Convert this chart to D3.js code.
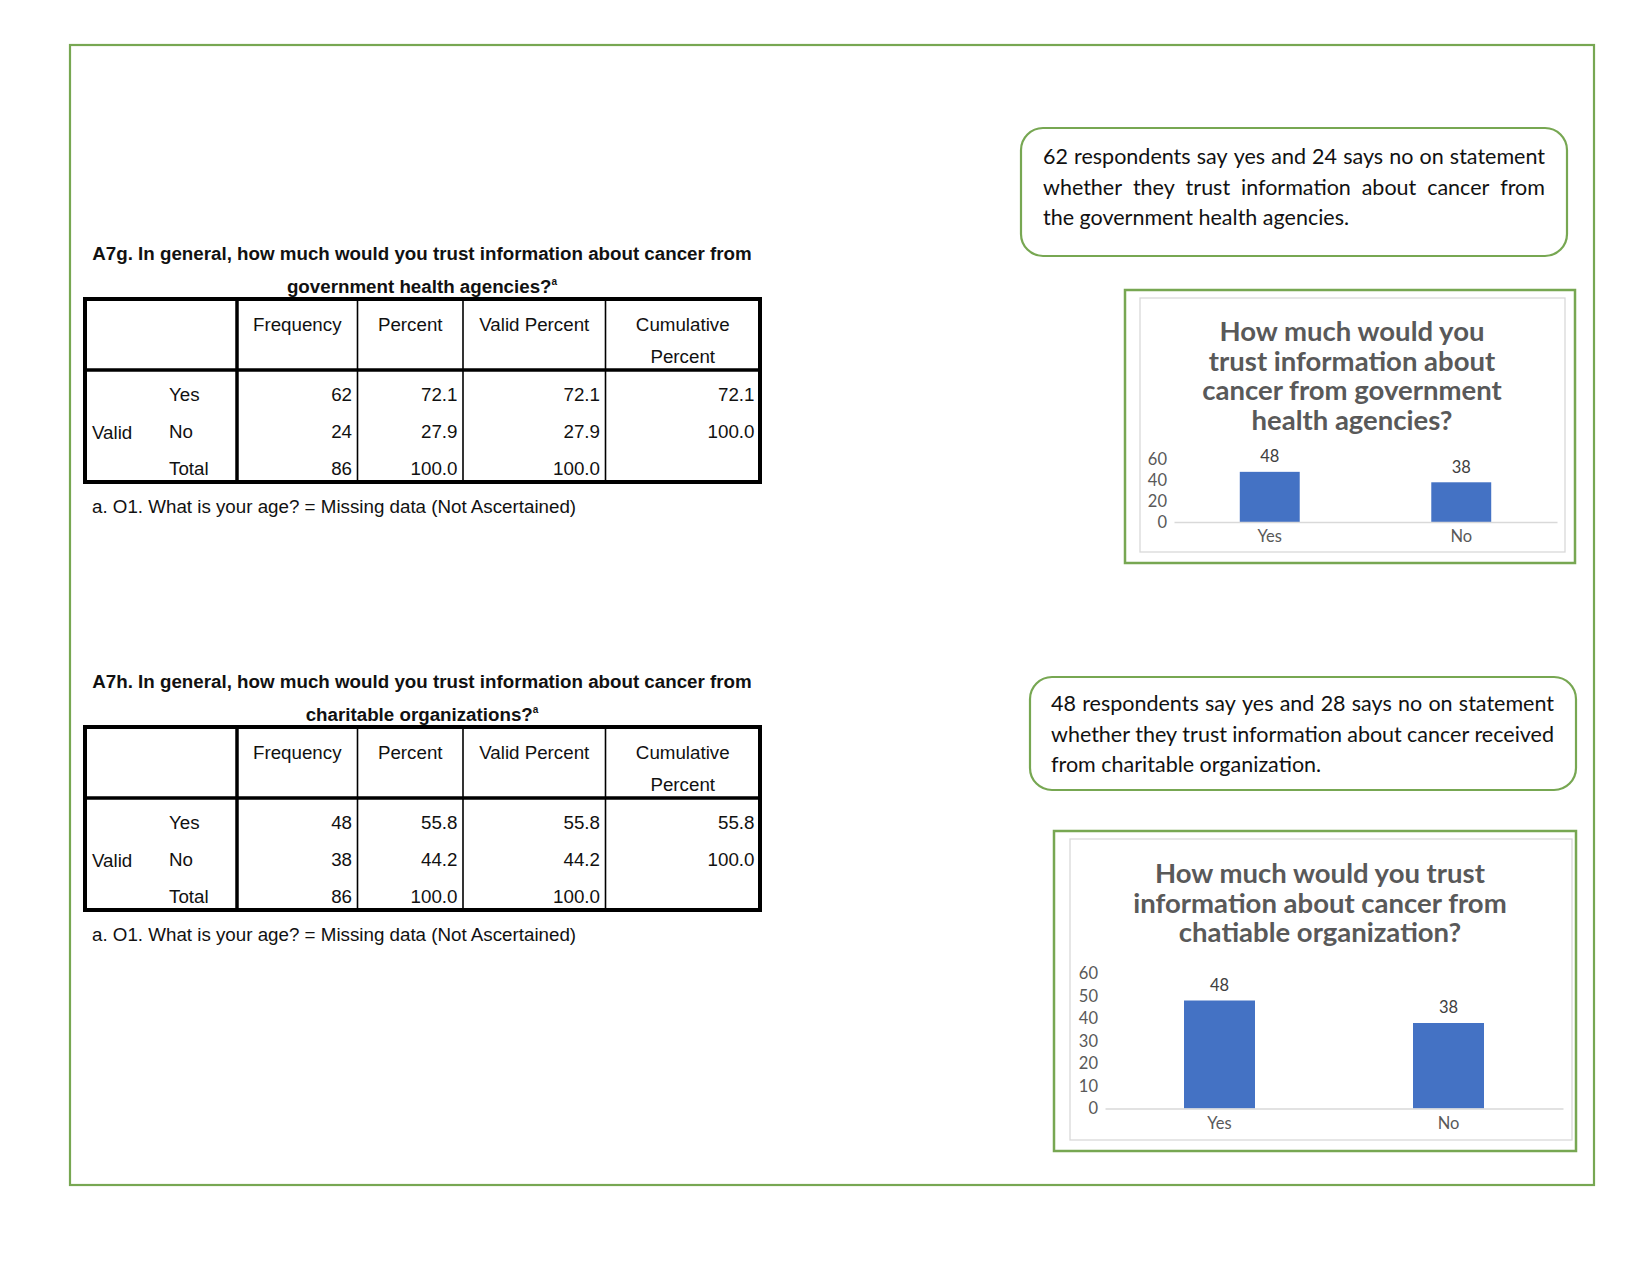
<!DOCTYPE html>
<html><head><meta charset="utf-8">
<script src="https://cdn.jsdelivr.net/npm/d3@7"></script>
<style>body{margin:0;background:#fff}svg{display:block}</style>
</head><body>
<script>
// ---------- data ----------
const tableColumns = ["Frequency", "Percent", "Valid Percent", ["Cumulative", "Percent"]];
const rowLabels = ["Yes", "No", "Total"];
const table1Title = ["A7g. In general, how much would you trust information about cancer from", "government health agencies?"];
const table1Frequency = ["62", "24", "86"];
const table1Percent = ["72.1", "27.9", "100.0"];
const table1Valid = ["72.1", "27.9", "100.0"];
const table1Cumulative = ["72.1", "100.0", ""];
const table2Title = ["A7h. In general, how much would you trust information about cancer from", "charitable organizations?"];
const table2Frequency = ["48", "38", "86"];
const table2Percent = ["55.8", "44.2", "100.0"];
const table2Valid = ["55.8", "44.2", "100.0"];
const table2Cumulative = ["55.8", "100.0", ""];
const footnote = "a. O1. What is your age? = Missing data (Not Ascertained)";

const callout1 = ["62 respondents say yes and 24 says no on statement", "whether they trust information about cancer from", "the government health agencies."];
const callout2 = ["48 respondents say yes and 28 says no on statement", "whether they trust information about cancer received", "from charitable organization."];

const categories = ["Yes", "No"];
const chart1Title = ["How much would you", "trust information about", "cancer from government", "health agencies?"];
const chart1Values = [48, 38];
const chart1Ticks = [0, 20, 40, 60];
const chart2Title = ["How much would you trust", "information about cancer from", "chatiable organization?"];
const chart2Values = [48, 38];
const chart2Ticks = [0, 10, 20, 30, 40, 50, 60];

// ---------- drawing ----------
const W = 1651, H = 1275;
const GREEN = "#77A752", BLUE = "#4472C4", GREY = "#595959";
const svg = d3.select("body").append("svg").attr("width", W).attr("height", H);

// page frame
svg.append("rect").attr("x", 70).attr("y", 45).attr("width", 1524).attr("height", 1140)
  .attr("fill", "none").attr("stroke", GREEN).attr("stroke-width", 2.2);

// ----- tables -----
function drawTable(top, title, cols) {
  const g = svg.append("g");
  const F = "'Liberation Sans', Arial, sans-serif";
  const FS = 18.75;
  const tx = 422;
  title.forEach((t, i) => {
    const tt = g.append("text").attr("x", tx).attr("y", top - 39 + i * 33)
      .attr("text-anchor", "middle").attr("font-family", F).attr("font-size", FS)
      .attr("font-weight", "bold").attr("fill", "#111").text(t);
    if (i === title.length - 1) tt.append("tspan").attr("font-size", 10).attr("dy", -8).text("a");
  });
  const xs = [85, 237, 357.5, 463, 605.5, 760];
  const bottom = top + 183, hsep = top + 71;
  g.append("rect").attr("x", xs[0]).attr("y", top).attr("width", xs[5] - xs[0]).attr("height", bottom - top)
    .attr("fill", "none").attr("stroke", "#000").attr("stroke-width", 4);
  g.append("line").attr("x1", xs[0]).attr("x2", xs[5]).attr("y1", hsep).attr("y2", hsep)
    .attr("stroke", "#000").attr("stroke-width", 3.5);
  g.append("line").attr("x1", xs[1]).attr("x2", xs[1]).attr("y1", top).attr("y2", bottom)
    .attr("stroke", "#000").attr("stroke-width", 3.5);
  [2, 3, 4].forEach(i => g.append("line").attr("x1", xs[i]).attr("x2", xs[i]).attr("y1", top).attr("y2", bottom)
    .attr("stroke", "#000").attr("stroke-width", 1.6));
  tableColumns.forEach((c, i) => {
    const cx = (xs[i + 1] + xs[i + 2]) / 2;
    const lines = Array.isArray(c) ? c : [c];
    lines.forEach((l, j) => g.append("text").attr("x", cx).attr("y", top + 32 + j * 32)
      .attr("text-anchor", "middle").attr("font-family", F).attr("font-size", FS).attr("fill", "#111").text(l));
  });
  const rowY = [top + 101.5, top + 139, top + 176];
  g.append("text").attr("x", 92).attr("y", rowY[1] + 1).attr("font-family", F).attr("font-size", FS).attr("fill", "#111").text("Valid");
  rowLabels.forEach((r, k) => g.append("text").attr("x", 169).attr("y", rowY[k])
    .attr("font-family", F).attr("font-size", FS).attr("fill", "#111").text(r));
  cols.forEach((col, i) => col.forEach((v, k) => g.append("text").attr("x", xs[i + 2] - 5.5).attr("y", rowY[k])
    .attr("text-anchor", "end").attr("font-family", F).attr("font-size", FS).attr("fill", "#111").text(v)));
  g.append("text").attr("x", 92).attr("y", bottom + 31).attr("font-family", F).attr("font-size", FS)
    .attr("fill", "#111").text(footnote);
}
drawTable(299, table1Title, [table1Frequency, table1Percent, table1Valid, table1Cumulative]);
drawTable(727, table2Title, [table2Frequency, table2Percent, table2Valid, table2Cumulative]);

// ----- callouts -----
const CF = "Lato, 'Noto Sans', sans-serif";
function measure(word, size, weight) {
  const t = svg.append("text").attr("font-family", CF).attr("font-size", size).attr("font-weight", weight || "normal").text(word);
  const w = t.node().getComputedTextLength(); t.remove(); return w;
}
function callout(x0, y0, x1, y1, lines, tx0, tx1, base, lh) {
  svg.append("rect").attr("x", x0).attr("y", y0).attr("width", x1 - x0).attr("height", y1 - y0)
    .attr("rx", 22).attr("ry", 22).attr("fill", "#fff").attr("stroke", GREEN).attr("stroke-width", 2.2);
  const fs = 21.5;
  const sp = measure("a a", fs) - measure("aa", fs);
  lines.forEach((line, i) => {
    const y = base + i * lh;
    if (i === lines.length - 1) {
      svg.append("text").attr("x", tx0).attr("y", y).attr("font-family", CF).attr("font-size", fs).attr("fill", "#111").text(line);
      return;
    }
    const words = line.split(" ");
    const ws = words.map(w => measure(w, fs));
    let gap = (tx1 - tx0 - d3.sum(ws)) / (words.length - 1);
    let k0 = 1;
    if (gap < sp * 0.75) {
      gap = sp * 0.75;
      k0 = (tx1 - tx0 - gap * (words.length - 1)) / d3.sum(ws);
    }
    let x = tx0;
    words.forEach((w, k) => {
      const t = svg.append("text").attr("x", x).attr("y", y).attr("font-family", CF).attr("font-size", fs).attr("fill", "#111").text(w);
      if (k0 !== 1) t.attr("textLength", ws[k] * k0).attr("lengthAdjust", "spacingAndGlyphs");
      x += ws[k] * k0 + gap;
    });
  });
}
callout(1021, 128, 1567, 256, callout1, 1043, 1545, 164, 30.5);
callout(1030, 677, 1576, 790, callout2, 1051, 1554, 711, 30.5);

// ----- charts -----
function chart(o) {
  const g = svg.append("g");
  g.append("rect").attr("x", o.outer[0]).attr("y", o.outer[1]).attr("width", o.outer[2] - o.outer[0])
    .attr("height", o.outer[3] - o.outer[1]).attr("fill", "#fff").attr("stroke", GREEN).attr("stroke-width", 2.5);
  g.append("rect").attr("x", o.inner[0]).attr("y", o.inner[1]).attr("width", o.inner[2] - o.inner[0])
    .attr("height", o.inner[3] - o.inner[1]).attr("fill", "#fff").attr("stroke", "#D9D9D9").attr("stroke-width", 1.3);
  o.title.forEach((t, i) => g.append("text").attr("x", o.titleX).attr("y", o.titleY + i * o.titleLH)
    .attr("text-anchor", "middle").attr("font-family", CF).attr("font-weight", "bold").attr("font-size", o.titleFS)
    .attr("fill", GREY).text(t));
  const x = d3.scaleBand().domain(categories).range(o.xRange).paddingInner(o.pad).paddingOuter(o.pad / 2);
  const y = d3.scaleLinear().domain([0, 60]).range(o.yRange);
  const yAxis = d3.axisLeft(y).tickValues(o.ticks).tickSize(0).tickPadding(0);
  const ya = g.append("g").attr("transform", `translate(${o.yLabelX},0)`).call(yAxis);
  ya.select(".domain").remove();
  ya.selectAll("text").attr("font-family", CF).attr("font-size", 16.5).attr("fill", GREY);
  g.selectAll(".bar").data(o.values).enter().append("rect")
    .attr("x", (d, i) => x(categories[i])).attr("width", x.bandwidth())
    .attr("y", d => y(d)).attr("height", d => y(0) - y(d)).attr("fill", BLUE);
  const xAxis = d3.axisBottom(x).tickSize(0).tickPadding(0);
  const xa = g.append("g").attr("transform", `translate(0,${y(0)})`).call(xAxis);
  xa.select(".domain").attr("stroke", "#D9D9D9").attr("stroke-width", 1.3);
  xa.selectAll("text").attr("font-family", CF).attr("font-size", 16.5).attr("fill", GREY).attr("dy", null).attr("y", o.xLabelDy);
  g.selectAll(".lbl").data(o.values).enter().append("text")
    .attr("x", (d, i) => x(categories[i]) + x.bandwidth() / 2).attr("y", d => y(d) - o.labelOff)
    .attr("text-anchor", "middle").attr("font-family", CF).attr("font-size", 16.5).attr("fill", "#404040").text(d => d);
}
chart({
  outer: [1125, 290, 1575, 563], inner: [1140, 298, 1565, 552],
  title: chart1Title, titleX: 1352, titleY: 341, titleLH: 29.5, titleFS: 27.5,
  xRange: [1174, 1557], pad: 0.687, yRange: [522, 459.3], ticks: chart1Ticks, yLabelX: 1167,
  values: chart1Values, xLabelDy: 20, labelOff: 9.5
});
chart({
  outer: [1054, 831, 1576, 1151], inner: [1070, 839, 1572, 1140],
  title: chart2Title, titleX: 1320, titleY: 883, titleLH: 29.5, titleFS: 27.5,
  xRange: [1105, 1563], pad: 0.69, yRange: [1108.5, 973.5], ticks: chart2Ticks, yLabelX: 1098,
  values: chart2Values, xLabelDy: 20, labelOff: 10
});
</script>
</body></html>
